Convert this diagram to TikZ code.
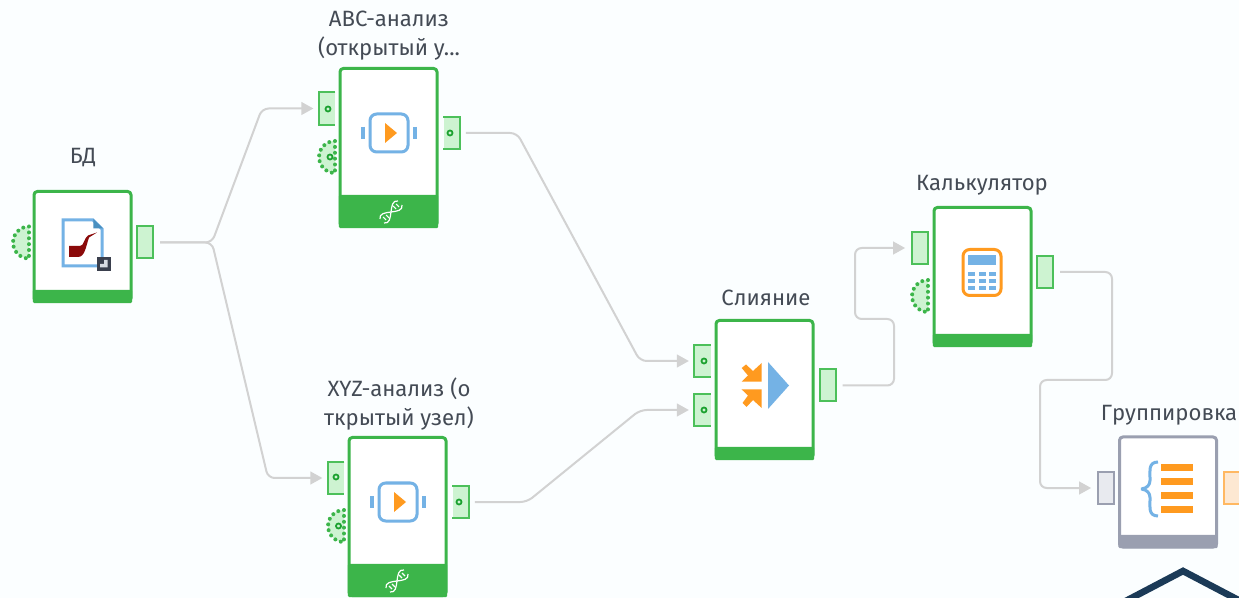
\documentclass[tikz,border=0pt]{standalone}
\usepackage{fontspec}
\setmainfont{Fira Sans}
\usetikzlibrary{arrows.meta}
\definecolor{nodegreen}{HTML}{3CB54A}
\definecolor{portgreen}{HTML}{4CC05A}
\definecolor{portfill}{HTML}{CDF3D1}
\definecolor{ringgreen}{HTML}{1BA12F}
\definecolor{nodegrey}{HTML}{9A9FB0}
\definecolor{portgrey}{HTML}{E8EAEF}
\definecolor{edgegrey}{HTML}{D2D2D2}
\definecolor{iconblue}{HTML}{74B2E5}
\definecolor{icondark}{HTML}{4A90C0}
\definecolor{iconorange}{HTML}{FF9A1F}
\definecolor{portorange}{HTML}{FDE8D2}
\definecolor{pipered}{HTML}{8B0A0A}
\definecolor{badgedark}{HTML}{3A3F4D}
\definecolor{labelgrey}{HTML}{444B55}
\definecolor{navy}{HTML}{1B3A57}
\definecolor{paper}{HTML}{FBFEFF}

\begin{document}
\begin{tikzpicture}[x=0.75pt,y=-0.75pt]
        \tikzset{block/.style = {shape=rectangle,draw=nodegreen,fill=white,line width=2.25pt,rounded corners=2.5pt,inner sep=0,minimum width=72.75pt}}
        \tikzset{footer/.style = {shape=rectangle,fill=nodegreen,inner sep=0,minimum width=74.5pt,rounded corners=1pt}}
        \tikzset{port/.style = {shape=rectangle,draw=portgreen,fill=portfill,line width=1.5pt,inner sep=0,minimum width=12pt,minimum height=24pt}}
        \tikzset{openport/.style = {shape=rectangle,fill=portfill,inner sep=0,minimum width=12pt,minimum height=24pt}}
        \tikzset{portline/.style = {draw=portgreen,line width=1.5pt}}
        \tikzset{halfport/.style = {draw=nodegreen,fill=portfill,line width=3pt,line cap=round,dash pattern=on 0pt off 4.4pt}}
        \tikzset{ring/.style = {shape=circle,draw=ringgreen,line width=1.3pt,inner sep=0,minimum size=3.8pt}}
        \tikzset{title/.style = {text=labelgrey,align=center,inner sep=0,font=\fontsize{16.6}{21.75}\selectfont}}
        \tikzset{edge/.style = {->,>={Triangle[length=9pt,width=9.5pt]},draw=edgegrey,line width=1.5pt,rounded corners=5pt,shorten <=4.5pt,shorten >=4pt}}
        \tikzset{iconline/.style = {draw=iconblue,line width=2.25pt}}
        \tikzset{dna/.pic = {
                \draw[white,line width=0.9pt] (-7,11) .. controls (4,13) and (-4,-13) .. (7,-11);
                \draw[white,line width=0.9pt] (-11,7) .. controls (-13,-4) and (13,4) .. (11,-7);
                \draw[white,line width=0.8pt] (-5,8) -- (-8,5) (-2,6) -- (-5,3) (2,-6) -- (5,-3) (5,-8) -- (8,-5);}}
        \tikzset{playicon/.pic = {
                \draw[iconline,rounded corners=5pt] (-19,-19) rectangle (19,19);
                \draw[iconblue,line width=2.4pt] (-26,-6) -- (-26,6) (26,-6) -- (26,6);
                \fill[iconorange] (-4,-10) -- (8,0) -- (-4,10) -- cycle;}}
        % background
        \fill[paper] (0,0) rectangle (1239,598);
        \clip (0,0) rectangle (1239,598);
        % half ports
        \foreach \x/\y in {29/242.5,335/157,344/526,928/296}
                \filldraw[halfport] (\x,\y-16) arc (270:90:16) -- cycle;
        % blocks
        \node[block,minimum height=82.5pt] (db) at (82.5,246.5) {};
        \node[block,minimum height=118.5pt] (abc) at (388.5,147.5) {};
        \node[block,minimum height=118.5pt] (xyz) at (397.5,516.5) {};
        \node[block,minimum height=103.5pt] (merge) at (764.5,389.5) {};
        \node[block,minimum height=103.5pt] (calc) at (982.5,276.5) {};
        \node[block,draw=nodegrey,minimum height=82.5pt] (group) at (1168,492) {};
        % footers
        \node[footer,minimum height=10pt] (dbfoot) at (82.5,296.5) {};
        \node[footer,minimum height=25pt] (abcfoot) at (388.5,211.5) {};
        \node[footer,minimum height=25pt] (xyzfoot) at (397.5,580.5) {};
        \node[footer,minimum height=10pt] (mergefoot) at (764.5,453.5) {};
        \node[footer,minimum height=10pt] (calcfoot) at (982.5,340.5) {};
        \node[footer,fill=nodegrey,minimum height=10pt] (groupfoot) at (1168,541.5) {};
        % ports
        \node[port] (dbout) at (145,242.5) {};
        \node[openport] (abcin) at (327,108.5) {};
        \node[openport] (abcout) at (451.5,133) {};
        \node[openport] (xyzin) at (336,478) {};
        \node[openport] (xyzout) at (460.5,502) {};
        \node[openport] (mergeina) at (702.5,361) {};
        \node[openport] (mergeinb) at (702.5,410) {};
        \node[port] (mergeout) at (827.5,385.5) {};
        \node[port] (calcin) at (919.5,248) {};
        \node[port] (calcout) at (1045,272) {};
        \node[port,draw=nodegrey,fill=portgrey] (groupin) at (1105.5,488) {};
        \node[port,draw=iconorange!70,fill=portorange] (groupout) at (1232,488) {};
        \foreach \p in {abcin,xyzin,mergeina,mergeinb}
                \draw[portline] (\p.north east) -- (\p.north west) -- (\p.south west) -- (\p.south east);
        \foreach \p in {abcout,xyzout}
                \draw[portline] (\p.north west) -- (\p.north east) -- (\p.south east) -- (\p.south west);
        % rings
        \foreach \x/\y in {328/109,330/157,450/133,336/477,338.5/526,459/502,704/361,704/410}
                \node[ring] at (\x,\y) {};
        % titles
        \node[title] (dbtitle) at (83,158) {БД};
        \node[title] (abctitle) at (389,36) {ABC-анализ\\(открытый у...};
        \node[title] (xyztitle) at (399,404.5) {XYZ-анализ (о\\ткрытый узел)};
        \node[title] (mergetitle) at (766,298) {Слияние};
        \node[title] (calctitle) at (982,185) {Калькулятор};
        \node[title] (grouptitle) at (1169,415) {Группировка};
        % edges
        \coordinate (dbfork) at (212,242.5);
        \coordinate (abcbend) at (262,108.5);
        \coordinate (xyzbend) at (268,478);
        \coordinate (abcturn) at (517,133);
        \coordinate (mergea) at (640,361);
        \coordinate (xyzturn) at (527,502);
        \coordinate (mergeb) at (640,410);
        \draw[edge] (dbout.east) -- (dbfork) -- (abcbend) -- (abcin.west);
        \draw[edge] (dbout.east) -- (dbfork) -- (xyzbend) -- (xyzin.west);
        \draw[edge] (abcout.east) -- (abcturn) -- (mergea) -- (mergeina.west);
        \draw[edge] (xyzout.east) -- (xyzturn) -- (mergeb) -- (mergeinb.west);
        \coordinate (mergeturn) at (894,319);
        \coordinate (calcturn) at (855,319);
        \draw[edge] (mergeout.east) -| (mergeturn) -- (calcturn) |- (calcin.west);
        \coordinate (calcdown) at (1112,380);
        \coordinate (groupturn) at (1040,380);
        \draw[edge] (calcout.east) -| (calcdown) -- (groupturn) |- (groupin.west);
        % icon of the source block
        \draw[iconline] (63,220) -- (93,220) -- (102,229) -- (102,266) -- (63,266) -- cycle;
        \fill[icondark] (93.3,219) -- (103,228.3) -- (93.3,228.3) -- cycle;
        \fill[pipered] (69,246) -- (80,246) .. controls (84,246) and (84,238) .. (88,235.5) -- (97,232.5) -- (89,237.5) .. controls (86,246) and (85,257) .. (78,257) -- (69,257) -- cycle;
        \fill[badgedark] (96.7,256.7) rectangle (110.7,270.7);
        \fill[portgrey!80!nodegrey] (107.5,260) -- (107.5,267.5) -- (100,267.5) -- (100,264) -- (104,264) -- (104,260) -- cycle;
        % play icons
        \pic at (389,133) {playicon};
        \pic at (398,502) {playicon};
        \pic at (391,212) {dna};
        \pic at (397,581) {dna};
        % icon of the merge block
        \fill[iconblue] (768,362) -- (789,385.5) -- (768,409) -- cycle;
        \fill[iconorange] (761.7,363) -- (761.7,381.7) -- (741.7,381.7) -- (748,375.5) -- (741.7,368) -- (746,364.5) -- (753,371) -- cycle;
        \fill[iconorange] (761.7,408) -- (761.7,389.5) -- (741.7,389.5) -- (748,395.5) -- (742.5,403) -- (746.5,407) -- (753,400) -- cycle;
        % icon of the calculator block
        \draw[iconorange,line width=2.25pt,rounded corners=5pt] (963,249.5) rectangle (1001,295.5);
        \fill[iconblue] (968,255) rectangle (996,265);
        \foreach \x in {968,978.5,989}
                \foreach \y in {272,279.5,286.5}
                        \fill[iconblue] (\x,\y) rectangle (\x+7,\y+4);
        % icon of the group block
        \draw[iconline,rounded corners=1pt] (1158,462) .. controls (1148,462) and (1150,472) .. (1150,479) .. controls (1150,485) and (1147,488) .. (1141,489) .. controls (1147,490) and (1150,493) .. (1150,499) .. controls (1150,506) and (1148,516) .. (1158,516);
        \foreach \y in {464,478,492,506}
                \fill[iconorange] (1161,\y) rectangle (1193,\y+7);
        % corner mark
        \draw[navy,line width=5pt] (1122,603) -- (1183,571) -- (1244,603);
\end{tikzpicture}
\end{document}
